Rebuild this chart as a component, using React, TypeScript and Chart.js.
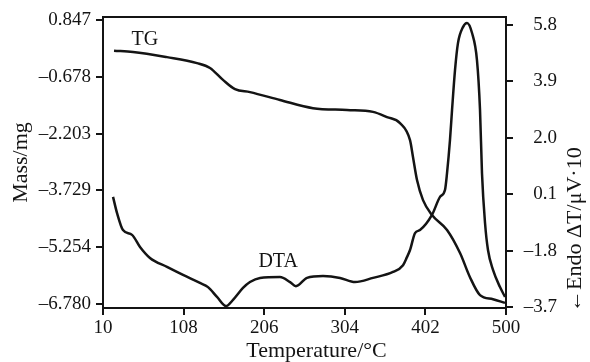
import React, { useEffect, useRef } from "react";
import { Chart, registerables } from "chart.js";

Chart.register(...registerables);

// ---- data ----
const tgTemp = [23.4, 46.5, 87.8, 124.3, 140.1, 155.9, 170.5, 188.7, 225.2, 265.3, 306.7, 338.3, 355.3, 371.1, 383.3, 386.9, 391.8, 399.1, 410.0, 428.3, 444.1, 456.2, 468.4, 484.2, 498.8];
const tgMass = [0.02, -0.01, -0.15, -0.31, -0.44, -0.76, -1.01, -1.09, -1.30, -1.52, -1.57, -1.62, -1.76, -1.92, -2.38, -2.83, -3.45, -3.99, -4.39, -4.79, -5.41, -6.06, -6.54, -6.65, -6.75];

const dtaTemp = [22.2, 27.0, 34.3, 45.3, 55.0, 67.1, 87.8, 107.3, 127.9, 137.7, 148.6, 159.6, 168.1, 180.2, 188.7, 200.9, 225.2, 237.4, 244.6, 258.0, 277.5, 298.2, 316.4, 338.3, 362.6, 374.8, 379.6, 383.3, 389.4, 395.4, 410.0, 419.8, 425.8, 428.3, 431.9, 434.4, 438.0, 441.6, 447.7, 452.6, 458.7, 464.7, 468.4, 470.8, 474.5, 478.1, 484.2, 492.7, 498.8];
const dtaSignal = [0.01, -0.53, -1.11, -1.27, -1.68, -2.05, -2.35, -2.62, -2.89, -3.03, -3.36, -3.67, -3.46, -3.06, -2.86, -2.72, -2.69, -2.86, -3.0, -2.72, -2.66, -2.72, -2.86, -2.72, -2.52, -2.29, -2.02, -1.78, -1.21, -1.11, -0.6, 0.01, 0.24, 0.81, 1.93, 2.94, 4.28, 5.19, 5.73, 5.87, 5.53, 4.62, 2.94, 0.81, -0.87, -1.78, -2.45, -3.03, -3.36];

const xTicks = [10, 108, 206, 304, 402, 500];
const massTicks = [0.847, -0.678, -2.203, -3.729, -5.254, -6.78];
const massTickLabels = ["0.847", "\u20130.678", "\u20132.203", "\u20133.729", "\u20135.254", "\u20136.780"];
const dtaTicks = [5.8, 3.9, 2.0, 0.1, -1.8, -3.7];
const dtaTickLabels = ["5.8", "3.9", "2.0", "0.1", "\u20131.8", "\u20133.7"];

const massRange = { min: -6.887, max: 0.928 };
const dtaRange = { min: -3.734, max: 6.07 };

const xTitle = "Temperature/\u00B0C";
const leftTitle = "Mass/mg";
const rightTitle = "\u2190Endo \u0394T/\u03BCV\u00B710";

const tgLabel = { text: "TG", x: 61, y: 0.31 };
const dtaLabel = { text: "DTA", x: 223, y: -2.18 };

const FONT = "'Liberation Serif', 'Times New Roman', serif";
const INK = "#141414";

const decorPlugin = {
  id: "decor",
  afterDraw(chart: any) {
    const { ctx, chartArea, scales } = chart;
    ctx.save();
    // top frame line
    ctx.strokeStyle = INK;
    ctx.lineWidth = 2;
    ctx.beginPath();
    ctx.moveTo(chartArea.left, chartArea.top);
    ctx.lineTo(chartArea.right, chartArea.top);
    ctx.stroke();
    ctx.fillStyle = INK;
    // curve labels
    ctx.font = `20px ${FONT}`;
    ctx.textAlign = "center";
    ctx.textBaseline = "middle";
    ctx.fillText(tgLabel.text, scales.x.getPixelForValue(tgLabel.x), scales.yMass.getPixelForValue(tgLabel.y));
    ctx.fillText(dtaLabel.text, scales.x.getPixelForValue(dtaLabel.x), scales.yDta.getPixelForValue(dtaLabel.y));
    // x axis title
    ctx.font = `22px ${FONT}`;
    ctx.fillText(xTitle, (chartArea.left + chartArea.right) / 2 + 12, chartArea.bottom + 43);
    // right axis title, reading bottom-to-top
    ctx.translate(scales.yDta.right + 18, chartArea.bottom + 4);
    ctx.rotate(-Math.PI / 2);
    ctx.textAlign = "left";
    ctx.fillText(rightTitle, 0, 0);
    ctx.restore();
  },
};

export default function App() {
  const ref = useRef<HTMLCanvasElement>(null);
  useEffect(() => {
    if (!ref.current) return;
    const tickFont = { family: FONT, size: 19 };
    const titleFont = { family: FONT, size: 22 };
    const chart = new Chart(ref.current, {
      type: "line",
      data: {
        datasets: [
          {
            label: "TG",
            data: tgTemp.map((x, i) => ({ x, y: tgMass[i] })),
            yAxisID: "yMass",
            borderColor: INK,
            borderWidth: 2.5,
            pointRadius: 0,
            fill: false,
            cubicInterpolationMode: "monotone",
          },
          {
            label: "DTA",
            data: dtaTemp.map((x, i) => ({ x, y: dtaSignal[i] })),
            yAxisID: "yDta",
            borderColor: INK,
            borderWidth: 2.5,
            pointRadius: 0,
            fill: false,
            cubicInterpolationMode: "monotone",
          },
        ],
      },
      options: {
        responsive: false,
        animation: false,
        layout: { padding: { top: 17, right: 33, bottom: 0, left: 0 } },
        plugins: { legend: { display: false }, tooltip: { enabled: false } },
        scales: {
          x: {
            type: "linear",
            min: 10,
            max: 500,
            afterBuildTicks: (ax: any) => {
              ax.ticks = xTicks.map((v) => ({ value: v }));
            },
            afterFit: (ax: any) => {
              ax.height = 54;
            },
            ticks: {
              callback: (v: any) => String(v),
              font: tickFont,
              color: INK,
              padding: 2,
              maxRotation: 0,
              autoSkip: false,
            },
            grid: { drawOnChartArea: false, tickLength: 7, color: INK, lineWidth: 2 },
            border: { color: INK, width: 2 },
            title: { display: false },
          },
          yMass: {
            type: "linear",
            position: "left",
            min: massRange.min,
            max: massRange.max,
            afterBuildTicks: (ax: any) => {
              ax.ticks = massTicks.map((v) => ({ value: v }));
            },
            afterFit: (ax: any) => {
              ax.width = 103;
            },
            ticks: {
              callback: (_v: any, i: number) => massTickLabels[i],
              font: tickFont,
              color: INK,
              padding: 5,
              autoSkip: false,
            },
            grid: { drawOnChartArea: false, tickLength: 7, color: INK, lineWidth: 2 },
            border: { color: INK, width: 2 },
            title: { display: true, text: leftTitle, font: titleFont, color: INK, padding: { top: 8, bottom: 0 } },
          },
          yDta: {
            type: "linear",
            position: "right",
            min: dtaRange.min,
            max: dtaRange.max,
            afterBuildTicks: (ax: any) => {
              ax.ticks = dtaTicks.map((v) => ({ value: v }));
            },
            afterFit: (ax: any) => {
              ax.width = 51;
            },
            ticks: {
              callback: (_v: any, i: number) => dtaTickLabels[i],
              font: tickFont,
              color: INK,
              crossAlign: "far",
              autoSkip: false,
            },
            grid: { drawOnChartArea: false, tickLength: 7, color: INK, lineWidth: 2 },
            border: { color: INK, width: 2 },
            title: { display: false },
          },
        },
      },
      plugins: [decorPlugin],
    } as any);
    return () => chart.destroy();
  }, []);
  return (
    <div style={{ position: "fixed", left: 0, top: 0, width: 590, height: 362, background: "#fff" }}>
      <canvas ref={ref} width={590} height={362} />
    </div>
  );
}
